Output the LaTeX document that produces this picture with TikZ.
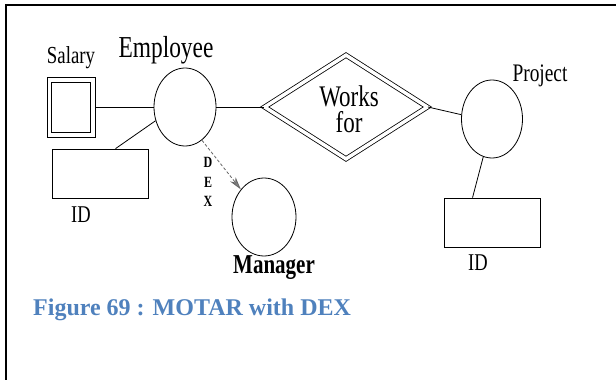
\documentclass[tikz,border=0pt]{standalone}
\usepackage{fontspec}
\setmainfont{Liberation Serif}
\usetikzlibrary{shapes.geometric,arrows.meta}
\newcommand{\tall}[1]{\scalebox{1}[1.3]{#1}}
\definecolor{capblue}{RGB}{79,129,189}
\tikzset{
  entity/.style={draw, ellipse, inner sep=0pt, line width=0.8pt},
  attr/.style={draw, rectangle, inner sep=0pt, line width=0.8pt, minimum width=96pt, minimum height=49pt},
  link/.style={line width=0.8pt},
}

\begin{document}
\begin{tikzpicture}[x=1pt,y=-1pt]
        \useasboundingbox (0,0) rectangle (616,380);
        \draw[line width=2.5pt] (5,5) -- (616,5);
        \draw[line width=2.5pt] (6,4) -- (6,380);
        % entities
        \node[entity, minimum width=62pt, minimum height=78pt] (emp) at (185,107) {};
        \node[entity, minimum width=64pt, minimum height=78pt] (mgr) at (264,217) {};
        \node[entity, minimum width=61pt, minimum height=78pt] (proj) at (492,119) {};
        \node[attr, minimum width=48pt, minimum height=60pt] (sal) at (71,107) {};
        \node[attr, minimum width=39pt, minimum height=50pt] (salin) at (71,107) {};
        \node[attr] (idl) at (100,173.5) {};
        \node[attr] (idr) at (492,222.5) {};
        \node[draw, diamond, double, double distance=3.5pt, line width=0.8pt, inner sep=0pt,
              minimum width=163pt, minimum height=104pt] (works) at (346,107) {};
        \node[inner sep=0pt, font=\fontsize{23}{23}\selectfont] (workstxt) at (349,96) {\tall{Works}};
        \node[inner sep=0pt, font=\fontsize{23}{23}\selectfont] (fortxt) at (349,122) {\tall{for}};
        % labels
        \node[font=\fontsize{18.8}{18.8}\selectfont] (saltxt) at (71,58) {\tall{Salary}};
        \node[font=\fontsize{23.4}{23.4}\selectfont] (emptxt) at (166,50) {\tall{Employee}};
        \node[font=\fontsize{18.5}{18.5}\selectfont] (idltxt) at (81,215) {\tall{ID}};
        \node[font=\fontsize{18.5}{18.5}\selectfont] (idrtxt) at (478,263) {\tall{ID}};
        \node[font=\fontsize{19.4}{19.4}\selectfont] (projtxt) at (540,76) {\tall{Project}};
        \node[font=\fontsize{21}{21}\selectfont\bfseries] (mgrtxt) at (274,268) {\tall{Manager}};
        \node[font=\fontsize{12}{19.5}\selectfont\bfseries, align=center] (dex) at (208,182) {\tall{D}\\\tall{E}\\\tall{X}};
        \node[anchor=base west, text=capblue, inner sep=0pt,
              font=\fontsize{24}{24}\selectfont\bfseries] (cap) at (33,315) {Figure 69 : MOTAR with DEX};
        % connectors
        \draw[link] (sal.east) -- (emp.west);
        \draw[link] (idl.58) -- (emp.205);
        \draw[link] (emp.east) -- (works.west);
        \draw[link] (works.east) -- (proj.172);
        \draw[link] (proj.257) -- (idr.128);
        \draw[link, gray!80!black, densely dashed, -{Stealth[length=13pt,width=7pt,fill=gray]}] (emp.297) -- (mgr.130);
      \end{tikzpicture}
\end{document}
